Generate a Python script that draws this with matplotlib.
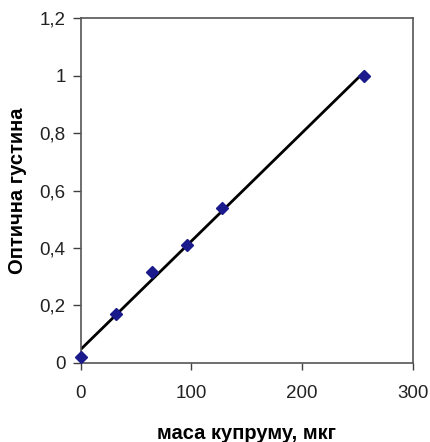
import numpy as np
import matplotlib
matplotlib.use("Agg")
import matplotlib.pyplot as plt
from matplotlib.ticker import FuncFormatter

plt.rcParams['font.family'] = ['Liberation Sans', 'DejaVu Sans']

mass = [0, 32, 64, 96, 128, 256]
absorb = [0.02, 0.17, 0.315, 0.41, 0.54, 1.0]
xticks = [0, 100, 200, 300]
yticks = [0, 0.2, 0.4, 0.6, 0.8, 1.0, 1.2]

fig = plt.figure(figsize=(4.30, 4.42), dpi=100)
ax = fig.add_axes([0.188, 0.179, 0.772, 0.780])

k, b = np.polyfit(mass, absorb, 1)
xl = np.array([min(mass), max(mass)])
ax.plot(xl, k * xl + b, color='black', lw=2.0, zorder=2)
ax.plot(mass, absorb, linestyle='none', marker='D', ms=6, color='#1a1a8c', zorder=3, clip_on=False)

ax.set_xlim(0, 300)
ax.set_ylim(0, 1.2)
ax.set_xticks(xticks)
ax.set_yticks(yticks)

def fmt(v, pos):
    s = ('%.1f' % v).rstrip('0').rstrip('.')
    return s.replace('.', ',')

ax.yaxis.set_major_formatter(FuncFormatter(fmt))
ax.xaxis.set_major_formatter(FuncFormatter(lambda v, p: '%d' % v))
ax.tick_params(axis='y', direction='out', length=6, width=1, colors='#404040', labelsize=13.5, labelcolor='#222222', pad=5)
ax.tick_params(axis='x', direction='out', length=5, width=1, colors='#404040', labelsize=13.5, labelcolor='#222222', pad=11)
for s in ax.spines.values():
    s.set_color('#555555')
    s.set_linewidth(1.2)

ax.set_xlabel('маса купруму, мкг', fontsize=14.5, fontweight='bold', labelpad=16)
ax.set_ylabel('Оптична густина', fontsize=14.5, fontweight='bold', labelpad=9)

fig.savefig('out.png', dpi=100)
